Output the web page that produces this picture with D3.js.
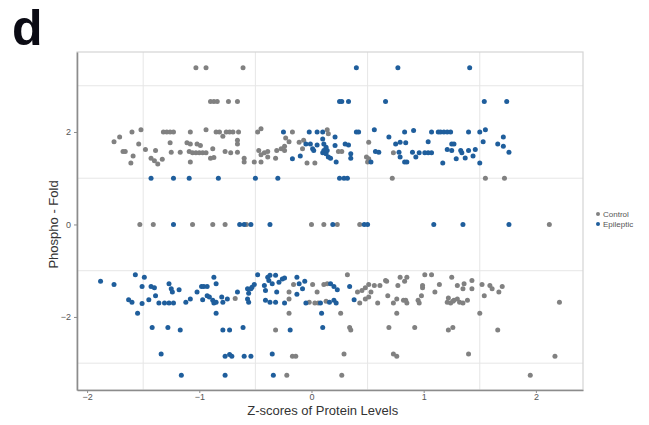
<!DOCTYPE html>
<html>
<head>
<meta charset="utf-8">
<script src="https://cdn.jsdelivr.net/npm/d3@7/dist/d3.min.js"></script>
<style>
  html, body { margin: 0; padding: 0; background: #ffffff; }
  svg { display: block; font-family: "Liberation Sans", Arial, sans-serif; }
</style>
</head>
<body>
<svg id="chart" width="649" height="425"></svg>
<script>
// Phospho fold change vs. protein-level z-score, two groups
const groups = ["Control", "Epileptic"];
const xTicks = [-2, -1, 0, 1, 2];
const yTicks = [-2, 0, 2];
const xGrid = [-1.5, -0.5, 0.5, 1.5];
const yGrid = [-3, -1, 1, 3];

// [z-score, phospho fold]
const control = [
  [-1.03,3.39],[-0.94,3.39],[-0.61,3.39],
  [-0.90,2.66],[-0.87,2.66],[-0.84,2.66],[-0.74,2.66],[-0.66,2.66],
  [0.72,1.0],[1.55,1.0],[1.72,1.0],
  [-1.53,0],[-1.41,0],[-1.06,0],[-0.88,0],[-0.77,0],[-0.58,0],[0.0,0],[0.11,0],[0.23,0],[0.43,0],[2.12,0],
  [-1.76,1.79],[-1.71,1.89],[-1.60,2.00],[-1.52,2.05],[-1.68,1.58],[-1.66,1.58],[-1.54,1.74],[-1.59,1.48],
  [-1.61,1.33],[-1.48,1.62],[-1.43,1.43],[-1.39,1.60],[-1.40,1.38],[-1.37,1.31],[-1.33,1.41],[-1.32,2.00],
  [-1.29,2.00],[-1.26,2.00],[-1.23,2.00],[-1.26,1.77],[-1.25,1.56],[-1.17,1.56],[-1.08,2.00],[-1.11,1.77],
  [-1.08,1.74],[-1.02,1.74],[-0.99,1.71],[-1.09,1.58],[-1.06,1.55],[-1.03,1.55],[-1.00,1.55],[-0.97,1.55],
  [-1.08,1.35],[-0.94,2.05],[-0.88,1.64],[-0.94,1.55],[-0.90,1.43],[-0.87,1.45],[-0.85,2.00],[-0.82,2.00],
  [-0.79,1.91],[-0.76,2.00],[-0.73,2.00],[-0.70,2.00],[-0.65,2.00],[-0.66,1.82],[-0.66,1.74],[-0.77,1.58],
  [-0.72,1.55],[-0.66,1.56],[-0.60,1.43],[-0.60,1.35],[-0.51,1.35],[-0.45,1.35],[-0.48,2.00],[-0.45,2.07],
  [-0.47,1.60],[-0.45,1.51],[-0.42,1.55],[-0.39,1.58],
  [-0.17,2.00],[-0.23,1.87],[-0.20,1.79],[-0.24,1.69],[-0.31,1.60],[-0.27,1.64],[-0.24,1.60],[-0.32,1.43],
  [-0.39,1.46],[-0.07,1.82],[-0.08,1.64],[0.14,2.05],[0.15,1.96],[0.03,1.33],[0.24,1.58],[0.27,1.58],
  [0.51,1.78],[0.49,1.46],[0.50,1.35],[-0.11,1.78],[-0.04,1.33],[0.73,1.55],[0.51,1.42],
  [-0.68,-1.60],[-0.20,-1.46],[-0.20,-1.61],[-0.16,-1.30],[0.01,-1.30],[-0.02,-1.68],[0.05,-1.46],[0.11,-1.30],
  [0.03,-1.70],[0.06,-1.70],[0.13,-1.66],[0.26,-1.92],[0.32,-1.09],[0.34,-2.23],[0.35,-2.28],[0.29,-2.80],
  [0.27,-3.26],[0.41,-1.46],[0.43,-1.70],[0.48,-1.37],[0.51,-1.30],[0.48,-1.61],[0.51,-1.57],[0.53,-1.46],
  [0.59,-1.70],[0.61,-1.32],[0.67,-1.23],[0.68,-1.54],[0.73,-1.70],[0.69,-2.23],[0.76,-1.92],[0.73,-2.80],
  [0.76,-2.85],[0.77,-1.32],[0.79,-1.14],[0.85,-1.14],[0.83,-1.23],[0.84,-1.64],[0.85,-1.70],[0.92,-2.23],
  [0.95,-1.64],[0.96,-1.70],[0.99,-1.37],[0.99,-1.32],[0.98,-1.54],[1.01,-1.09],[1.07,-1.09],[1.10,-1.46],
  [1.14,-1.30],[1.21,-1.68],[1.24,-1.70],[1.27,-1.64],[1.30,-1.61],[1.32,-1.68],[1.35,-1.70],[1.22,-2.28],
  [1.26,-2.23],[1.25,-1.14],[1.30,-1.32],[1.36,-1.28],[1.35,-1.39],[1.39,-1.64],[1.40,-2.80],[1.43,-1.21],
  [1.43,-1.39],[1.50,-1.92],[1.52,-1.30],[1.59,-1.32],[1.61,-1.39],[1.70,-1.34],[1.54,-1.54],[1.67,-1.46],
  [1.66,-2.28],[1.95,-3.26],[2.17,-2.85],[2.21,-1.68],[-0.32,-2.28],[-0.20,-1.92],[-0.17,-2.85],[-0.14,-2.85],
  [-0.22,-3.26],[0.14,-1.28],[0.45,-1.43],[0.56,-1.32],[0.66,-1.21],[0.76,-1.61],[0.82,-1.64],[1.22,-1.59],
  [1.26,-1.66]
];

const epileptic = [
  [0.40,3.39],[0.77,3.39],[1.41,3.39],
  [0.25,2.66],[0.27,2.66],[0.33,2.66],[0.66,2.66],[1.54,2.66],[1.74,2.66],
  [-1.43,1],[-1.23,1],[-1.09,1],[-0.83,1],[-0.50,1],[-0.30,1],[0.25,1],[0.29,1],[0.32,1],
  [-1.23,0],[-0.64,0],[-0.60,0],[-0.54,0],[-0.37,0],[0.19,0],[0.47,0],[0.50,0],[1.09,0],[1.35,0],[1.76,0],
  [-0.25,2.00],[-0.17,1.42],[-0.10,1.48],[-0.05,1.74],[-0.02,2.00],[0.05,2.00],[0.10,2.00],[0.01,1.64],
  [0.02,1.60],[0.10,1.85],[0.11,1.74],[0.13,1.67],[0.10,1.55],[0.13,1.53],[0.17,1.43],[0.21,1.89],
  [0.21,1.71],[0.22,1.35],[0.30,1.74],[0.33,1.72],[0.35,1.53],[0.35,1.43],[0.40,2.00],[0.42,2.00],
  [0.53,1.35],[0.56,2.05],[0.57,1.58],[0.60,1.56],[0.69,1.89],[0.75,1.74],[0.79,1.78],[0.84,1.77],
  [0.78,1.56],[0.79,1.46],[0.83,1.35],[0.85,1.35],[0.83,2.00],[0.91,2.03],[0.90,1.56],[0.93,1.46],
  [0.96,1.55],[1.01,1.55],[1.04,1.79],[1.07,2.00],[1.13,2.00],[1.15,2.00],[1.18,2.00],[1.21,2.00],
  [1.24,2.00],[1.04,1.55],[1.07,1.55],[1.17,1.33],[1.25,1.74],[1.27,1.74],[1.21,1.62],[1.25,1.60],
  [1.29,1.42],[1.33,1.60],[1.34,1.55],[1.37,1.44],[1.40,2.00],[1.40,1.60],[1.44,1.48],[1.46,1.62],
  [1.50,2.00],[1.55,2.05],[1.53,1.79],[1.50,1.33],[1.66,1.74],[1.71,1.69],[1.71,1.89],[1.76,1.56],
  [-0.01,1.74],[0.05,1.72],[0.11,1.60],[0.14,1.60],[0.15,1.46],
  [-1.88,-1.23],[-1.76,-1.30],[-1.57,-1.09],[-1.49,-1.14],[-1.51,-1.34],[-1.63,-1.63],[-1.60,-1.68],[-1.55,-1.92],
  [-1.51,-1.71],[-1.43,-1.34],[-1.40,-1.37],[-1.39,-1.54],[-1.45,-1.63],[-1.36,-1.70],[-1.31,-1.70],[-1.27,-1.70],
  [-1.23,-1.70],[-1.27,-1.28],[-1.25,-1.39],[-1.24,-1.46],[-1.18,-1.41],[-1.12,-1.68],[-1.08,-1.61],[-1.02,-1.46],
  [-0.98,-1.34],[-0.96,-1.34],[-0.93,-1.34],[-0.97,-1.63],[-0.93,-1.54],[-0.91,-1.57],[-0.88,-1.64],[-0.87,-1.70],
  [-0.85,-1.68],[-0.87,-1.14],[-0.85,-1.28],[-0.85,-1.92],[-0.80,-1.57],[-0.75,-1.61],[-0.79,-1.68],[-0.66,-1.46],
  [-0.57,-1.39],[-0.56,-1.49],[-0.54,-1.39],[-0.57,-1.61],[-0.56,-1.68],[-0.53,-1.36],[-0.51,-1.30],[-0.48,-1.09],
  [-0.42,-1.32],[-0.41,-1.43],[-0.39,-1.14],[-0.38,-1.21],[-0.37,-1.10],[-0.35,-1.28],[-0.41,-1.64],[-0.37,-1.68],
  [-0.32,-1.68],[-0.32,-1.10],[-0.29,-1.25],[-0.31,-1.46],[-0.24,-1.70],[-0.13,-1.14],[-0.11,-1.28],[-0.13,-1.51],
  [-0.08,-1.39],[-0.06,-1.23],[-0.05,-1.70],[0.08,-1.70],[0.17,-1.28],[0.20,-1.34],[0.23,-1.41],[0.16,-1.68],
  [0.20,-1.64],[0.22,-1.70],[0.34,-1.34],[0.38,-1.63],[-0.26,-1.18],[-0.24,-1.16],
  [-1.42,-2.23],[-1.28,-2.23],[-1.17,-2.28],[-1.34,-2.80],[-1.16,-3.26],[-0.79,-2.28],[-0.73,-2.28],[-0.61,-2.23],
  [-0.77,-2.85],[-0.73,-2.81],[-0.71,-2.85],[-0.60,-2.85],[-0.54,-2.85],[-0.35,-2.80],[-0.77,-3.26],[-0.34,-3.26],
  [-0.19,-2.28],[0.09,-1.92],[0.10,-2.23]
];

const colors = { Control: "#818181", Epileptic: "#1f5e9c" };

const svg = d3.select("#chart");
const margin = { left: 77, top: 52, right: 66, bottom: 35 };
const W = 649 - margin.left - margin.right;
const H = 425 - margin.top - margin.bottom;

const x = d3.scaleLinear().domain([-2.09, 2.42]).range([0, W]);
const y = d3.scaleLinear().domain([-3.58, 3.73]).range([H, 0]);

// Panel label
svg.append("text")
  .attr("x", 12).attr("y", 45)
  .attr("font-size", 50).attr("font-weight", "bold")
  .attr("fill", "#0b0b14")
  .text("d");

const g = svg.append("g").attr("transform", `translate(${margin.left},${margin.top})`);

// Grid lines
g.selectAll(".gx").data(xGrid).enter().append("line")
  .attr("x1", d => x(d)).attr("x2", d => x(d))
  .attr("y1", 0).attr("y2", H)
  .attr("stroke", "#e6e6e6").attr("stroke-width", 1);
g.selectAll(".gy").data(yGrid).enter().append("line")
  .attr("x1", 0).attr("x2", W)
  .attr("y1", d => y(d)).attr("y2", d => y(d))
  .attr("stroke", "#e6e6e6").attr("stroke-width", 1);

// Panel border
g.append("rect")
  .attr("x", 0).attr("y", 0).attr("width", W).attr("height", H)
  .attr("fill", "none").attr("stroke", "#d4d4d4").attr("stroke-width", 1.2);

// Axes
const xAxis = g.append("g").attr("transform", `translate(0,${H})`)
  .call(d3.axisBottom(x).tickValues(xTicks).tickSize(3).tickSizeOuter(0).tickPadding(1).tickFormat(d3.format("d")));
const yAxis = g.append("g")
  .call(d3.axisLeft(y).tickValues(yTicks).tickSize(3).tickSizeOuter(0).tickPadding(3).tickFormat(d3.format("d")));
[xAxis, yAxis].forEach(a => {
  a.select(".domain").attr("stroke", "#8c8c8c").attr("stroke-width", 1.6);
  a.selectAll(".tick line").attr("stroke", "#8c8c8c");
  a.selectAll(".tick text").attr("fill", "#555").attr("font-size", 9)
    .attr("font-family", "Liberation Sans, Arial, sans-serif");
});

// Points
const series = [
  { name: "Control", pts: control },
  { name: "Epileptic", pts: epileptic }
];
series.forEach(s => {
  g.append("g").selectAll("circle").data(s.pts).enter().append("circle")
    .attr("cx", d => x(d[0])).attr("cy", d => y(d[1]))
    .attr("r", 2.5).attr("fill", colors[s.name]);
});

// Axis titles
svg.append("text")
  .attr("x", margin.left + x(0.1)).attr("y", 415)
  .attr("text-anchor", "middle").attr("font-size", 13).attr("fill", "#333")
  .text("Z-scores of Protein Levels");
svg.append("text")
  .attr("transform", `translate(58,${margin.top + y(0)}) rotate(-90)`)
  .attr("text-anchor", "middle").attr("font-size", 13).attr("fill", "#333")
  .text("Phospho - Fold");

// Legend
const lg = svg.append("g").attr("transform", "translate(598,214)");
groups.forEach((name, i) => {
  const row = lg.append("g").attr("transform", `translate(0,${i * 10})`);
  row.append("circle").attr("cx", 0).attr("cy", 0).attr("r", 2).attr("fill", colors[name]);
  row.append("text").attr("x", 5).attr("y", 3).attr("font-size", 8).attr("fill", "#555").text(name);
});
</script>
</body>
</html>
